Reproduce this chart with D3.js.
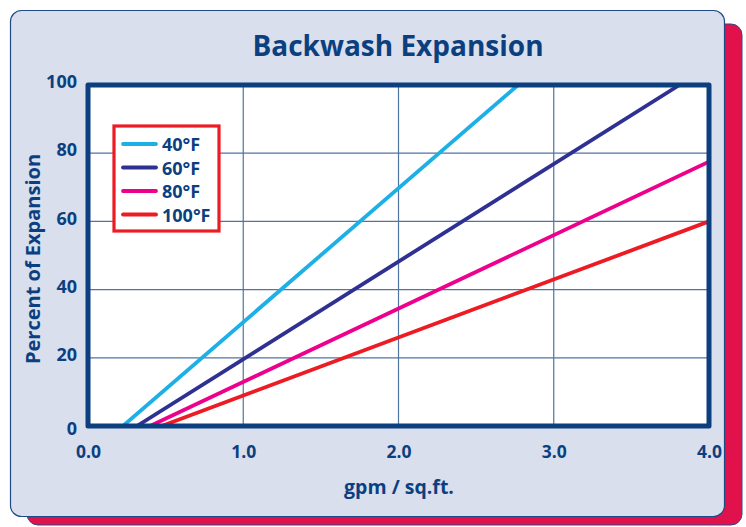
<!DOCTYPE html>
<html><head><meta charset="utf-8">
<script src="https://cdn.jsdelivr.net/npm/d3@7"></script>
<style>html,body{margin:0;padding:0;background:#fff;}svg{display:block;}</style>
</head><body>
<svg id="c" width="746" height="527"></svg>
<script>
const seriesNames = ["40°F", "60°F", "80°F", "100°F"];
const seriesColors = ["#1cb0e6", "#2e3192", "#ec008c", "#ed1c24"];
const s40 = [[0.225, 0], [2.77, 100]];
const s60 = [[0.315, 0], [3.81, 100]];
const s80 = [[0.40, 0], [4.0, 77.5]];
const s100 = [[0.475, 0], [4.0, 60]];
const xTicks = [0, 1, 2, 3, 4];
const yTicks = [0, 20, 40, 60, 80, 100];
const title = "Backwash Expansion";
const xTitle = "gpm / sq.ft.";
const yTitle = "Percent of Expansion";

const navy = "#0c3f80";
const svg = d3.select("#c");
const font = "'Open Sans', 'DejaVu Sans', sans-serif";

// shadow + panel
svg.append("rect").attr("x", 27).attr("y", 24).attr("width", 715).attr("height", 501)
  .attr("rx", 11).attr("fill", "#e0114b").attr("stroke", "#2a4d8a").attr("stroke-width", 1);
svg.append("rect").attr("x", 10.5).attr("y", 10.5).attr("width", 714).attr("height", 506)
  .attr("rx", 11).attr("fill", "#d9dfed").attr("stroke", "#1f4a88").attr("stroke-width", 1.2);

const x = d3.scaleLinear().domain([0, 4]).range([88, 709]);
const y = d3.scaleLinear().domain([0, 100]).range([426, 85]);

svg.append("rect").attr("x", x(0)).attr("y", y(100)).attr("width", x(4) - x(0)).attr("height", y(0) - y(100))
  .attr("fill", "#fff");

// grid
const g = svg.append("g");
g.selectAll("line.v").data(xTicks.slice(1, -1)).join("line")
  .attr("x1", d => x(d)).attr("x2", d => x(d)).attr("y1", y(100)).attr("y2", y(0))
  .attr("stroke", "#4f74a2").attr("stroke-width", 1.2);
g.selectAll("line.h").data(yTicks.slice(1, -1)).join("line")
  .attr("y1", d => y(d)).attr("y2", d => y(d)).attr("x1", x(0)).attr("x2", x(4))
  .attr("stroke", "#4f74a2").attr("stroke-width", 1.2);

// clip
svg.append("clipPath").attr("id", "clip").append("rect")
  .attr("x", x(0)).attr("y", y(100)).attr("width", x(4) - x(0)).attr("height", y(0) - y(100));

const line = d3.line().x(d => x(d[0])).y(d => y(d[1]));
const allSeries = [s40, s60, s80, s100];
svg.append("g").attr("clip-path", "url(#clip)").selectAll("path").data(allSeries).join("path")
  .attr("d", line).attr("fill", "none").attr("stroke", (d, i) => seriesColors[i])
  .attr("stroke-width", 3.8);

// frame
svg.append("rect").attr("x", x(0)).attr("y", y(100)).attr("width", x(4) - x(0)).attr("height", y(0) - y(100))
  .attr("fill", "none").attr("stroke", navy).attr("stroke-width", 5).attr("stroke-linejoin", "round");

// axes labels
const xAxis = d3.axisBottom(x).tickValues(xTicks).tickFormat(d3.format(".1f")).tickSize(0).tickPadding(0);
const xa = svg.append("g").attr("transform", `translate(0,${y(0)})`).call(xAxis);
xa.select(".domain").remove();
xa.selectAll("text").attr("y", 32).attr("dy", null)
  .attr("font-family", font).attr("font-weight", 700).attr("font-size", 17.5).attr("fill", navy);

const yAxis = d3.axisLeft(y).tickValues(yTicks).tickSize(0).tickPadding(0);
const ya = svg.append("g").attr("transform", `translate(${x(0)},0)`).call(yAxis);
ya.select(".domain").remove();
ya.selectAll("text").attr("x", -11).attr("dy", d => d === 0 ? "0.45em" : "0.15em")
  .attr("font-family", font).attr("font-weight", 700).attr("font-size", 18).attr("fill", navy);

svg.append("text").attr("x", 398).attr("y", 56).attr("text-anchor", "middle")
  .attr("font-family", font).attr("font-weight", 700).attr("font-size", 28).attr("fill", navy)
  .text(title);
svg.append("text").attr("x", 399).attr("y", 494).attr("text-anchor", "middle")
  .attr("font-family", font).attr("font-weight", 700).attr("font-size", 19.5).attr("fill", navy)
  .text(xTitle);
svg.append("text").attr("transform", "translate(40,259) rotate(-90)").attr("text-anchor", "middle")
  .attr("font-family", font).attr("font-weight", 700).attr("font-size", 20).attr("fill", navy)
  .text(yTitle);

// legend
const lg = svg.append("g");
lg.append("rect").attr("x", 114).attr("y", 126).attr("width", 105).attr("height", 105)
  .attr("fill", "#fff").attr("stroke", "#ed1c24").attr("stroke-width", 3.2);
const items = lg.selectAll("g.it").data(seriesNames).join("g")
  .attr("transform", (d, i) => `translate(0,${144 + i * 23.5})`);
items.append("line").attr("x1", 123).attr("x2", 156).attr("y1", 0).attr("y2", 0)
  .attr("stroke", (d, i) => seriesColors[i]).attr("stroke-width", 3.8).attr("stroke-linecap", "round");
items.append("text").attr("x", 162).attr("y", 7).attr("font-family", font).attr("font-weight", 700)
  .attr("font-size", 18).attr("fill", navy).text(d => d);
</script>
</body></html>
